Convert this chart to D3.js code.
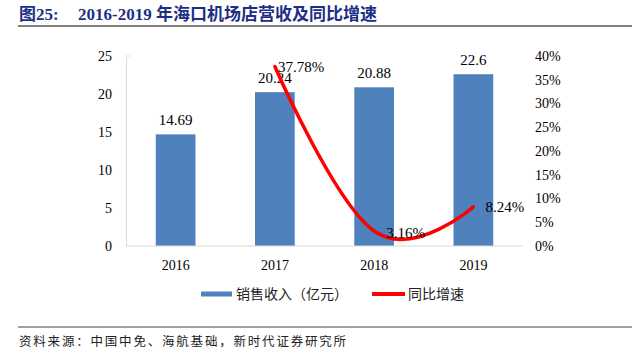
<!DOCTYPE html>
<html>
<head>
<meta charset="utf-8">
<script src="https://cdn.jsdelivr.net/npm/d3@7"></script>
<style>
  body { margin: 0; background: #fff; }
  svg { display: block; }
</style>
</head>
<body>
<svg id="chart" width="642" height="364"></svg>
<script>
// DATA
const years = ["2016", "2017", "2018", "2019"];
const revenue = [14.69, 20.24, 20.88, 22.6];
const growthYears = ["2017", "2018", "2019"];
const growth = [37.78, 3.16, 8.24];
const leftTicks = [0, 5, 10, 15, 20, 25];
const rightTicks = [0, 5, 10, 15, 20, 25, 30, 35, 40];

const serif = "'Liberation Serif', 'Times New Roman', serif";
const cjk = "'Noto Sans CJK SC', sans-serif";

const plot = { left: 126, right: 523, top: 56, bottom: 246 };

const svg = d3.select("#chart");

// Title
const title = svg.append("text")
  .attr("x", 19)
  .attr("y", 20)
  .attr("fill", "#1c2f86")
  .style("font-weight", "bold")
  .style("font-size", "17px");
title.append("tspan").style("font-family", cjk).text("图");
title.append("tspan").style("font-family", serif).text("25:");
title.append("tspan").attr("x", 78).style("font-family", serif).text("2016-2019 ");
title.append("tspan").style("font-family", cjk).style("font-size", "17px").text("年海口机场店营收及同比增速");

svg.append("line")
  .attr("x1", 18).attr("x2", 632)
  .attr("y1", 26).attr("y2", 26)
  .attr("stroke", "#7f7f7f")
  .attr("stroke-width", 2);

// Scales
const x = d3.scaleBand()
  .domain(years)
  .range([plot.left, plot.right])
  .paddingInner(0.6)
  .paddingOuter(0.3);

const yL = d3.scaleLinear().domain([0, 25]).range([plot.bottom, plot.top]);
const yR = d3.scaleLinear().domain([0, 40]).range([plot.bottom, plot.top]);

// Left axis
const leftAxis = svg.append("g")
  .attr("transform", `translate(${plot.left},0)`)
  .call(d3.axisLeft(yL).tickValues(leftTicks).tickSize(0).tickPadding(14));
leftAxis.select(".domain").attr("stroke", "#d9d9d9");
leftAxis.selectAll("text")
  .style("font-family", serif)
  .style("font-size", "14px")
  .attr("fill", "#000");
svg.append("line")
  .attr("x1", plot.left).attr("x2", plot.left + 4)
  .attr("y1", yL(25)).attr("y2", yL(25))
  .attr("stroke", "#d9d9d9");

// Right axis (labels only)
const rightAxis = svg.append("g")
  .attr("transform", `translate(${plot.right},0)`)
  .call(d3.axisRight(yR).tickValues(rightTicks).tickSize(0).tickPadding(12).tickFormat(d => d + "%"));
rightAxis.select(".domain").remove();
rightAxis.selectAll("text")
  .style("font-family", serif)
  .style("font-size", "14px")
  .attr("fill", "#000");

// Bars
svg.selectAll(".bar")
  .data(revenue)
  .enter()
  .append("rect")
  .attr("class", "bar")
  .attr("x", (d, i) => x(years[i]))
  .attr("width", x.bandwidth())
  .attr("y", d => yL(d))
  .attr("height", d => yL(0) - yL(d))
  .attr("fill", "#4f81bd");

// Baseline
svg.append("line")
  .attr("x1", plot.left).attr("x2", plot.right)
  .attr("y1", plot.bottom).attr("y2", plot.bottom)
  .attr("stroke", "#d9d9d9");

// X labels
svg.selectAll(".xlab")
  .data(years)
  .enter()
  .append("text")
  .attr("x", d => x(d) + x.bandwidth() / 2)
  .attr("y", 270)
  .attr("text-anchor", "middle")
  .style("font-family", serif)
  .style("font-size", "14px")
  .text(d => d);

// Bar value labels
svg.selectAll(".blab")
  .data(revenue)
  .enter()
  .append("text")
  .attr("x", (d, i) => x(years[i]) + x.bandwidth() / 2)
  .attr("y", d => yL(d) - 9)
  .attr("text-anchor", "middle")
  .style("font-family", serif)
  .style("font-size", "15px")
  .text(d => d);

// Growth line
const line = d3.line()
  .x((d, i) => x(growthYears[i]) + x.bandwidth() / 2)
  .y(d => yR(d))
  .curve(d3.curveCardinal.tension(-0.2));

svg.append("path")
  .datum(growth)
  .attr("d", line)
  .attr("fill", "none")
  .attr("stroke", "#ff0000")
  .attr("stroke-width", 3.5)
  .attr("stroke-linecap", "round");

// Growth labels
const gOffsets = [[3, 0], [12, 2], [12, 0]];
svg.selectAll(".glab")
  .data(growth)
  .enter()
  .append("text")
  .attr("x", (d, i) => x(growthYears[i]) + x.bandwidth() / 2 + gOffsets[i][0])
  .attr("y", (d, i) => yR(d) + gOffsets[i][1])
  .attr("dy", "0.35em")
  .style("font-family", serif)
  .style("font-size", "15px")
  .text(d => d.toFixed(2) + "%");

// Legend
const legend = svg.append("g").style("font-family", cjk).style("font-size", "14px").attr("fill", "#222");
legend.append("line")
  .attr("x1", 201).attr("x2", 232).attr("y1", 294).attr("y2", 294)
  .attr("stroke", "#4f81bd").attr("stroke-width", 5);
legend.append("text").attr("x", 236).attr("y", 299).text("销售收入（亿元）");
legend.append("line")
  .attr("x1", 372).attr("x2", 405).attr("y1", 294).attr("y2", 294)
  .attr("stroke", "#ff0000").attr("stroke-width", 4);
legend.append("text").attr("x", 408).attr("y", 299).text("同比增速");

// Footer
svg.append("line")
  .attr("x1", 18).attr("x2", 632)
  .attr("y1", 327).attr("y2", 327)
  .attr("stroke", "#7f7f7f")
  .attr("stroke-width", 1.5);
svg.append("text")
  .attr("x", 19).attr("y", 346)
  .style("font-family", cjk)
  .style("font-size", "12.5px")
  .style("letter-spacing", "1.8px")
  .attr("fill", "#222")
  .text("资料来源：中国中免、海航基础，新时代证券研究所");
</script>
</body>
</html>
